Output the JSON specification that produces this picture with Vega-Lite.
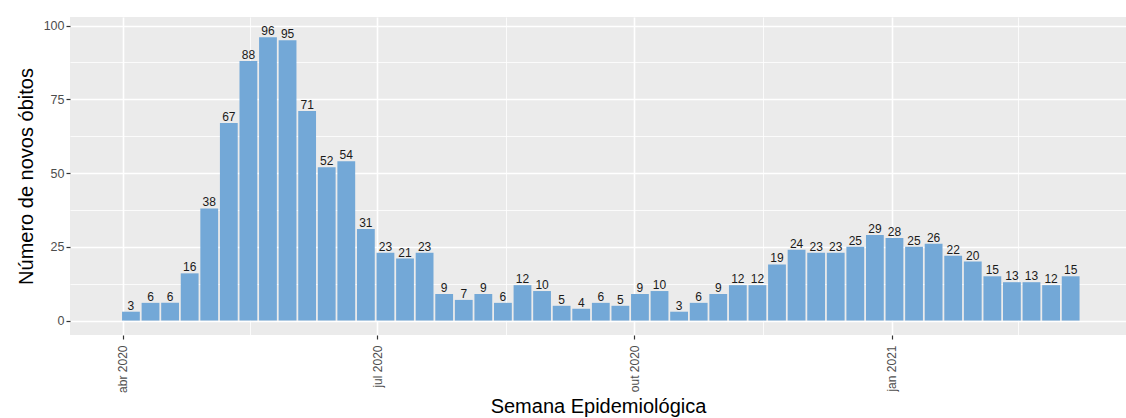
{
  "$schema": "https://vega.github.io/schema/vega-lite/v6.json",
  "autosize": "none",
  "width": 1056,
  "height": 318,
  "padding": {"left": 70, "top": 17, "right": 0, "bottom": 83},
  "background": "white",
  "config": {
    "font": "Liberation Sans",
    "view": {"fill": "#EBEBEB", "stroke": null},
    "axis": {"domain": false, "gridColor": "white", "gridOpacity": 1, "tickColor": "#333333", "labelColor": "#4D4D4D", "titleColor": "black", "titleFontWeight": "normal"}
  },
  "data": {
    "values": [
      {"semana": "2020-04-04", "obitos": 3},
      {"semana": "2020-04-11", "obitos": 6},
      {"semana": "2020-04-18", "obitos": 6},
      {"semana": "2020-04-25", "obitos": 16},
      {"semana": "2020-05-02", "obitos": 38},
      {"semana": "2020-05-09", "obitos": 67},
      {"semana": "2020-05-16", "obitos": 88},
      {"semana": "2020-05-23", "obitos": 96},
      {"semana": "2020-05-30", "obitos": 95},
      {"semana": "2020-06-06", "obitos": 71},
      {"semana": "2020-06-13", "obitos": 52},
      {"semana": "2020-06-20", "obitos": 54},
      {"semana": "2020-06-27", "obitos": 31},
      {"semana": "2020-07-04", "obitos": 23},
      {"semana": "2020-07-11", "obitos": 21},
      {"semana": "2020-07-18", "obitos": 23},
      {"semana": "2020-07-25", "obitos": 9},
      {"semana": "2020-08-01", "obitos": 7},
      {"semana": "2020-08-08", "obitos": 9},
      {"semana": "2020-08-15", "obitos": 6},
      {"semana": "2020-08-22", "obitos": 12},
      {"semana": "2020-08-29", "obitos": 10},
      {"semana": "2020-09-05", "obitos": 5},
      {"semana": "2020-09-12", "obitos": 4},
      {"semana": "2020-09-19", "obitos": 6},
      {"semana": "2020-09-26", "obitos": 5},
      {"semana": "2020-10-03", "obitos": 9},
      {"semana": "2020-10-10", "obitos": 10},
      {"semana": "2020-10-17", "obitos": 3},
      {"semana": "2020-10-24", "obitos": 6},
      {"semana": "2020-10-31", "obitos": 9},
      {"semana": "2020-11-07", "obitos": 12},
      {"semana": "2020-11-14", "obitos": 12},
      {"semana": "2020-11-21", "obitos": 19},
      {"semana": "2020-11-28", "obitos": 24},
      {"semana": "2020-12-05", "obitos": 23},
      {"semana": "2020-12-12", "obitos": 23},
      {"semana": "2020-12-19", "obitos": 25},
      {"semana": "2020-12-26", "obitos": 29},
      {"semana": "2021-01-02", "obitos": 28},
      {"semana": "2021-01-09", "obitos": 25},
      {"semana": "2021-01-16", "obitos": 26},
      {"semana": "2021-01-23", "obitos": 22},
      {"semana": "2021-01-30", "obitos": 20},
      {"semana": "2021-02-06", "obitos": 15},
      {"semana": "2021-02-13", "obitos": 13},
      {"semana": "2021-02-20", "obitos": 13},
      {"semana": "2021-02-27", "obitos": 12},
      {"semana": "2021-03-06", "obitos": 15}
    ]
  },
  "encoding": {
    "x": {
      "field": "semana",
      "type": "temporal",
      "scale": {
        "type": "utc",
        "domain": [
          {"year": 2020, "month": 3, "date": 15, "utc": true},
          {"year": 2021, "month": 3, "date": 24, "utc": true}
        ]
      }
    },
    "y": {
      "field": "obitos",
      "type": "quantitative",
      "scale": {"domain": [-4.9, 102.9], "nice": false, "zero": false}
    }
  },
  "layer": [
    {
      "mark": {"type": "bar", "width": 17.8, "color": "#73A8D7"},
      "encoding": {
        "y2": {"datum": 0},
        "x": {
          "field": "semana",
          "type": "temporal",
          "axis": {
            "orient": "bottom",
            "grid": true,
            "title": "Semana Epidemiológica",
            "titleFontSize": 20,
            "titlePadding": 4,
            "values": [
              {"year": 2020, "month": 4, "date": 1, "utc": true},
              {"year": 2020, "month": 7, "date": 1, "utc": true},
              {"year": 2020, "month": 10, "date": 1, "utc": true},
              {"year": 2021, "month": 1, "date": 1, "utc": true}
            ],
            "labelExpr": "['jan','fev','mar','abr','mai','jun','jul','ago','set','out','nov','dez'][utcmonth(datum.value)] + ' ' + utcyear(datum.value)",
            "labelAngle": 270,
            "labelAlign": "right",
            "labelBaseline": "middle",
            "labelDx": 4,
            "labelFontSize": 12,
            "labelPadding": 6,
            "tickSize": 4,
            "tickWidth": 1.2,
            "gridWidth": 1.6
          }
        },
        "y": {
          "field": "obitos",
          "type": "quantitative",
          "axis": {
            "orient": "left",
            "grid": true,
            "title": "Número de novos óbitos",
            "titleFontSize": 20,
            "titlePadding": 7,
            "values": [0, 25, 50, 75, 100],
            "labelFontSize": 12.5,
            "labelPadding": 2,
            "tickSize": 4,
            "tickWidth": 1.2,
            "gridWidth": 1.6
          }
        }
      }
    },
    {
      "mark": {"type": "text", "baseline": "middle", "dy": -6, "fontSize": 12, "color": "#1A1A1A"},
      "encoding": {
        "text": {"field": "obitos", "type": "quantitative"},
        "x": {
          "field": "semana",
          "type": "temporal",
          "axis": {
            "orient": "top",
            "grid": true,
            "title": null,
            "labels": false,
            "ticks": false,
            "gridWidth": 0.8,
            "values": [
              {"year": 2020, "month": 5, "date": 16, "hours": 12, "utc": true},
              {"year": 2020, "month": 8, "date": 16, "utc": true},
              {"year": 2020, "month": 11, "date": 16, "utc": true},
              {"year": 2021, "month": 2, "date": 15, "utc": true}
            ]
          }
        },
        "y": {
          "field": "obitos",
          "type": "quantitative",
          "axis": {
            "orient": "right",
            "grid": true,
            "title": null,
            "labels": false,
            "ticks": false,
            "gridWidth": 0.8,
            "values": [12.5, 37.5, 62.5, 87.5]
          }
        }
      }
    }
  ],
  "resolve": {"axis": {"x": "independent", "y": "independent"}}
}
